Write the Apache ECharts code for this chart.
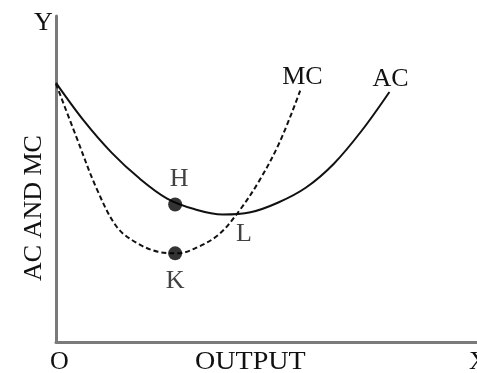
<!DOCTYPE html>
<html>
<head>
<meta charset="utf-8">
<script src="https://cdn.jsdelivr.net/npm/echarts@6/dist/echarts.min.js"></script>
<style>
  html, body { margin: 0; padding: 0; background: #fff; }
  #chart { width: 477px; height: 373px; }
</style>
</head>
<body>
<div id="chart"></div>
<script>
// curve readings (output on x, cost on y, both 0..100)
var acX = [0, 6.6, 13.2, 19.8, 26.4, 33, 39.6, 46.2, 52.8, 59.4, 66, 72.6, 79.2];
var acY = [79.5, 67.9, 58.1, 50.2, 44.0, 40.7, 39.1, 39.8, 42.8, 47.4, 54.7, 64.8, 76.7];
var mcX = [0, 4.8, 9.7, 14.5, 19.3, 24.2, 29, 33.8, 38.7, 43.5, 48.3, 53.2, 58];
var mcY = [79.2, 63.0, 46.9, 35.2, 30.3, 27.7, 27.2, 29.2, 33.0, 40.2, 49.5, 61.5, 77.1];
var dotNames = ['H', 'K'];
var dotPoints = [[28.3, 42.2], [28.3, 27.2]];
var crossPoint = [42, 39.4];

var font = 'Liberation Serif';
var size = 26;

function pairs(xs, ys) {
  return xs.map(function (x, i) { return [x, ys[i]]; });
}

function textStyle(str) {
  return { text: str, font: size + 'px "' + font + '"', fill: '#111' };
}

var chart = echarts.init(document.getElementById('chart'));

var option = {
  animation: false,
  backgroundColor: '#fff',
  grid: { left: 56, right: 0, top: 16, bottom: 31 },
  xAxis: {
    type: 'value', min: 0, max: 100,
    axisLine: { lineStyle: { color: '#7a7a7a', width: 3 } },
    axisTick: { show: false }, axisLabel: { show: false }, splitLine: { show: false }
  },
  yAxis: {
    type: 'value', min: 0, max: 100,
    axisLine: { show: true, lineStyle: { color: '#7a7a7a', width: 3 } },
    axisTick: { show: false }, axisLabel: { show: false }, splitLine: { show: false }
  },
  series: [
    {
      name: 'AC', type: 'line', smooth: 0.35, symbol: 'none',
      lineStyle: { color: '#111', width: 2 },
      data: pairs(acX, acY),
      endLabel: {
        show: true, formatter: 'AC', fontFamily: font, fontSize: size, color: '#111',
        offset: [-25, -13]
      }
    },
    {
      name: 'MC', type: 'line', smooth: 0.35, symbol: 'none',
      lineStyle: { color: '#111', width: 2, type: [5, 3] },
      data: pairs(mcX, mcY),
      endLabel: {
        show: true, formatter: 'MC', fontFamily: font, fontSize: size, color: '#111',
        offset: [-26, -13]
      }
    },
    {
      type: 'scatter', symbol: 'circle', symbolSize: 14,
      itemStyle: { color: '#000' },
      data: [
        { value: dotPoints[0], label: { show: true, formatter: dotNames[0], position: 'top', distance: 5, offset: [4, 0] } },
        { value: dotPoints[1], label: { show: true, formatter: dotNames[1], position: 'bottom', distance: 8 } }
      ],
      label: { fontFamily: font, fontSize: size, color: '#111' },
      z: 5
    },
    {
      type: 'scatter', symbolSize: 0,
      data: [{ value: crossPoint }],
      label: {
        show: true, formatter: 'L', position: 'inside', offset: [11, 21],
        fontFamily: font, fontSize: size, color: '#111'
      }
    }
  ],
  graphic: [
    { type: 'text', left: 34, top: 10, style: textStyle('Y') },
    { type: 'text', left: 50, top: 349, style: textStyle('O') },
    { type: 'text', x: 195, y: 349, scaleX: 1.08, style: textStyle('OUTPUT') },
    { type: 'text', left: 469, top: 349, style: textStyle('X') },
    { type: 'text', x: 21, y: 281, rotation: Math.PI / 2, style: textStyle('AC AND MC') }
  ]
};

chart.setOption(option);
</script>
</body>
</html>
